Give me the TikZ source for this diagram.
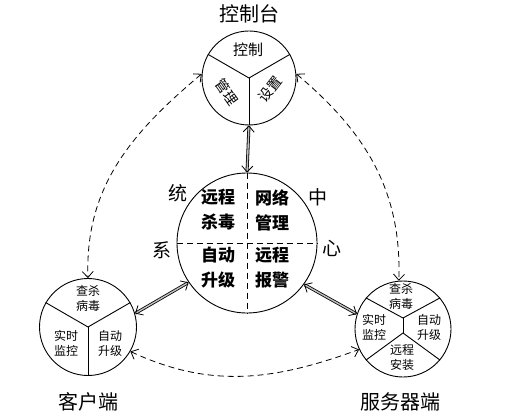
\documentclass[tikz,border=0pt]{standalone}
\usepackage{fontspec}
\setmainfont{Noto Sans CJK SC}
\usetikzlibrary{arrows.meta}

\begin{document}
\begin{tikzpicture}[x=1pt, y=1pt,
    ring/.style={circle, draw, line width=0.9pt, inner sep=0pt},
    title/.style={font=\fontsize{20}{24}\selectfont},
    side/.style={font=\fontsize{19}{20}\selectfont},
    quad/.style={font=\fontsize{17}{25}\selectfont\bfseries, align=center},
    small/.style={font=\fontsize{12}{15}\selectfont, align=center},
    tiny/.style={font=\fontsize{14}{16}\selectfont, inner sep=1pt},
    link/.style={{Straight Barb[length=6pt,width=11pt]}-{Straight Barb[length=6pt,width=11pt]}, line width=0.8pt, double=gray!50, double distance=1.4pt},
    dlink/.style={{Straight Barb[length=6pt,width=11pt]}-{Straight Barb[length=6pt,width=11pt]}, line width=0.8pt, dash pattern=on 6pt off 4pt}
]
    \useasboundingbox (0,0) rectangle (525,-417);

    % Cercles
    \node[ring, minimum size=94pt] (ctl) at (249,-78) {};
    \node[ring, minimum size=140pt] (ctr) at (247,-243) {};
    \node[ring, minimum size=97pt] (cli) at (88,-327) {};
    \node[ring, minimum size=96pt] (srv) at (403,-329) {};

    % Titres
    \node[title] (tctl) at (249,-14) {控制台};
    \node[title] (tcli) at (88,-402) {客户端};
    \node[title] (tsrv) at (400,-402) {服务器端};

    % Console
    \draw[line width=0.9pt] (ctl.center) -- (ctl.150);
    \draw[line width=0.9pt] (ctl.center) -- (ctl.30);
    \draw[line width=0.9pt] (ctl.center) -- (ctl.270);
    \node[font=\fontsize{15}{18}\selectfont] (c1) at (248,-50) {控制};
    \node[tiny, rotate=-55] (c2) at (227,-92) {管理};
    \node[tiny, rotate=52] (c3) at (270,-89) {设置};

    % Centre
    \draw[line width=0.9pt, dash pattern=on 6pt off 4pt] (ctr.west) -- (ctr.east);
    \draw[line width=0.9pt, dash pattern=on 6pt off 4pt] (ctr.north) -- (ctr.south);
    \node[quad] (q1) at (218,-210) {远程\\杀毒};
    \node[quad] (q2) at (272,-210) {网络\\管理};
    \node[quad] (q3) at (218,-268) {自动\\升级};
    \node[quad] (q4) at (272,-268) {远程\\报警};
    \node[side] (s1) at (178,-193) {统};
    \node[side] (s2) at (318,-197) {中};
    \node[side] (s3) at (162,-250) {系};
    \node[side] (s4) at (332,-248) {心};

    % Client
    \draw[line width=0.9pt] (cli.center) -- (cli.150);
    \draw[line width=0.9pt] (cli.center) -- (cli.30);
    \draw[line width=0.9pt] (cli.center) -- (cli.270);
    \node[small] (k1) at (88,-298) {查杀\\病毒};
    \node[small] (k2) at (66,-343) {实时\\监控};
    \node[small] (k3) at (110,-343) {自动\\升级};

    % Serveur
    \coordinate (p1) at (403,-318);
    \coordinate (p2) at (403,-333);
    \draw[line width=0.9pt] (p1) -- (p2);
    \draw[line width=0.9pt] (p1) -- (srv.140);
    \draw[line width=0.9pt] (p1) -- (srv.40);
    \draw[line width=0.9pt] (p2) -- (srv.220);
    \draw[line width=0.9pt] (p2) -- (srv.320);
    \node[small] (v1) at (401,-296) {查杀\\病毒};
    \node[small] (v2) at (374,-327) {实时\\监控};
    \node[small] (v3) at (429,-327) {自动\\升级};
    \node[small] (v4) at (402,-358) {远程\\安装};

    % Liaisons
    \draw[link] (ctl.south) -- (ctr.north);
    \draw[link] (ctr.214) -- (cli.16);
    \draw[link] (ctr.-36) -- (srv.162);

    \draw[dlink] (ctl.175) to[out=220, in=92] (cli.north);
    \draw[dlink] (ctl.5) to[out=-40, in=88] (srv.95);
    \draw[dlink] (cli.-30) to[out=-25, in=200] (srv.-155);

\end{tikzpicture}
\end{document}
